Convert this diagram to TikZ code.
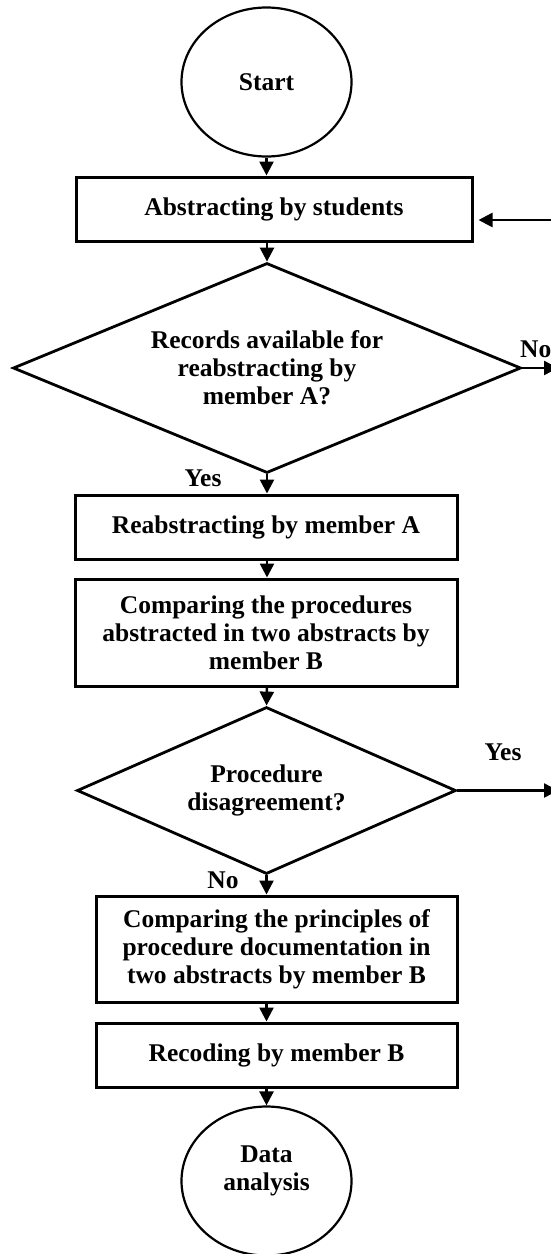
\documentclass[tikz,border=0pt]{standalone}
\usepackage{fontspec}
\setmainfont{Liberation Serif}
\usetikzlibrary{shapes.geometric,arrows.meta}
\begin{document}
\begin{tikzpicture}[x=1pt,y=-1pt,
  every node/.style={font=\fontsize{25.5}{28}\selectfont\bfseries},
  boxnode/.style={draw,rectangle,line width=3pt,inner sep=0pt,align=center},
  ovalnode/.style={draw,ellipse,line width=2.2pt,inner sep=0pt,align=center,minimum width=170pt,minimum height=149pt},
  decnode/.style={draw,diamond,line width=2.8pt,inner sep=0pt,align=center},
  arr/.style={line width=2.5pt,-{Triangle[length=14pt,width=14pt]}},
  lbl/.style={inner sep=0pt}]
\useasboundingbox (0,0) rectangle (551,1254);
\node[ovalnode] (start) at (266.5,82) {Start};
\node[boxnode,minimum width=396pt,minimum height=64pt] (b1) at (274,209) {Abstracting by students};
\node[decnode,minimum width=508pt,minimum height=210pt,shape aspect=2.42] (d1) at (267,368) {Records available for\\reabstracting by\\member A?};
\node[boxnode,minimum width=382pt,minimum height=64pt] (b2) at (266,527) {Reabstracting by member A};
\node[boxnode,minimum width=382pt,minimum height=107pt] (b3) at (266,632.5) {Comparing the procedures\\abstracted in two abstracts by\\member B};
\node[decnode,minimum width=379pt,minimum height=167pt,shape aspect=2.27] (d2) at (266.5,790.5) {Procedure\\disagreement?};
\node[boxnode,minimum width=361pt,minimum height=106pt] (b4) at (276.5,949) {Comparing the principles of\\procedure documentation in\\two abstracts by member B};
\node[boxnode,minimum width=361pt,minimum height=64pt] (b5) at (276.5,1055) {Recoding by member B};
\node[ovalnode] (end) at (266.5,1181) {Data\\analysis\\[-2pt]};
\node[lbl] (yes1) at (203,478) {Yes};
\node[lbl,anchor=west] (no1) at (520,349) {No};
\node[lbl] (yes2) at (503,752) {Yes};
\node[lbl] (no2) at (223,880) {No};
\coordinate (r1) at (553,220);
\coordinate (e1) at (558,368);
\coordinate (e2) at (558,790.5);
\draw[arr] (start.south) -- (start.south |- b1.north);
\draw[arr] (d1.north |- b1.south) -- (d1.north);
\draw[arr] (d1.south) -- (d1.south |- b2.north);
\draw[arr] (d1.south |- b2.south) -- (d1.south |- b3.north);
\draw[arr] (d1.south |- b3.south) -- (d2.north);
\draw[arr] (d2.south) -- (d2.south |- b4.north);
\draw[arr] (d2.south |- b4.south) -- (d2.south |- b5.north);
\draw[arr] (d2.south |- b5.south) -- (end.north);
\draw[arr] (d1.east) -- (e1);
\draw[arr] (d2.east) -- (e2);
\draw[arr] (r1) -- ([xshift=5pt]b1.east |- r1);
\end{tikzpicture}
\end{document}
